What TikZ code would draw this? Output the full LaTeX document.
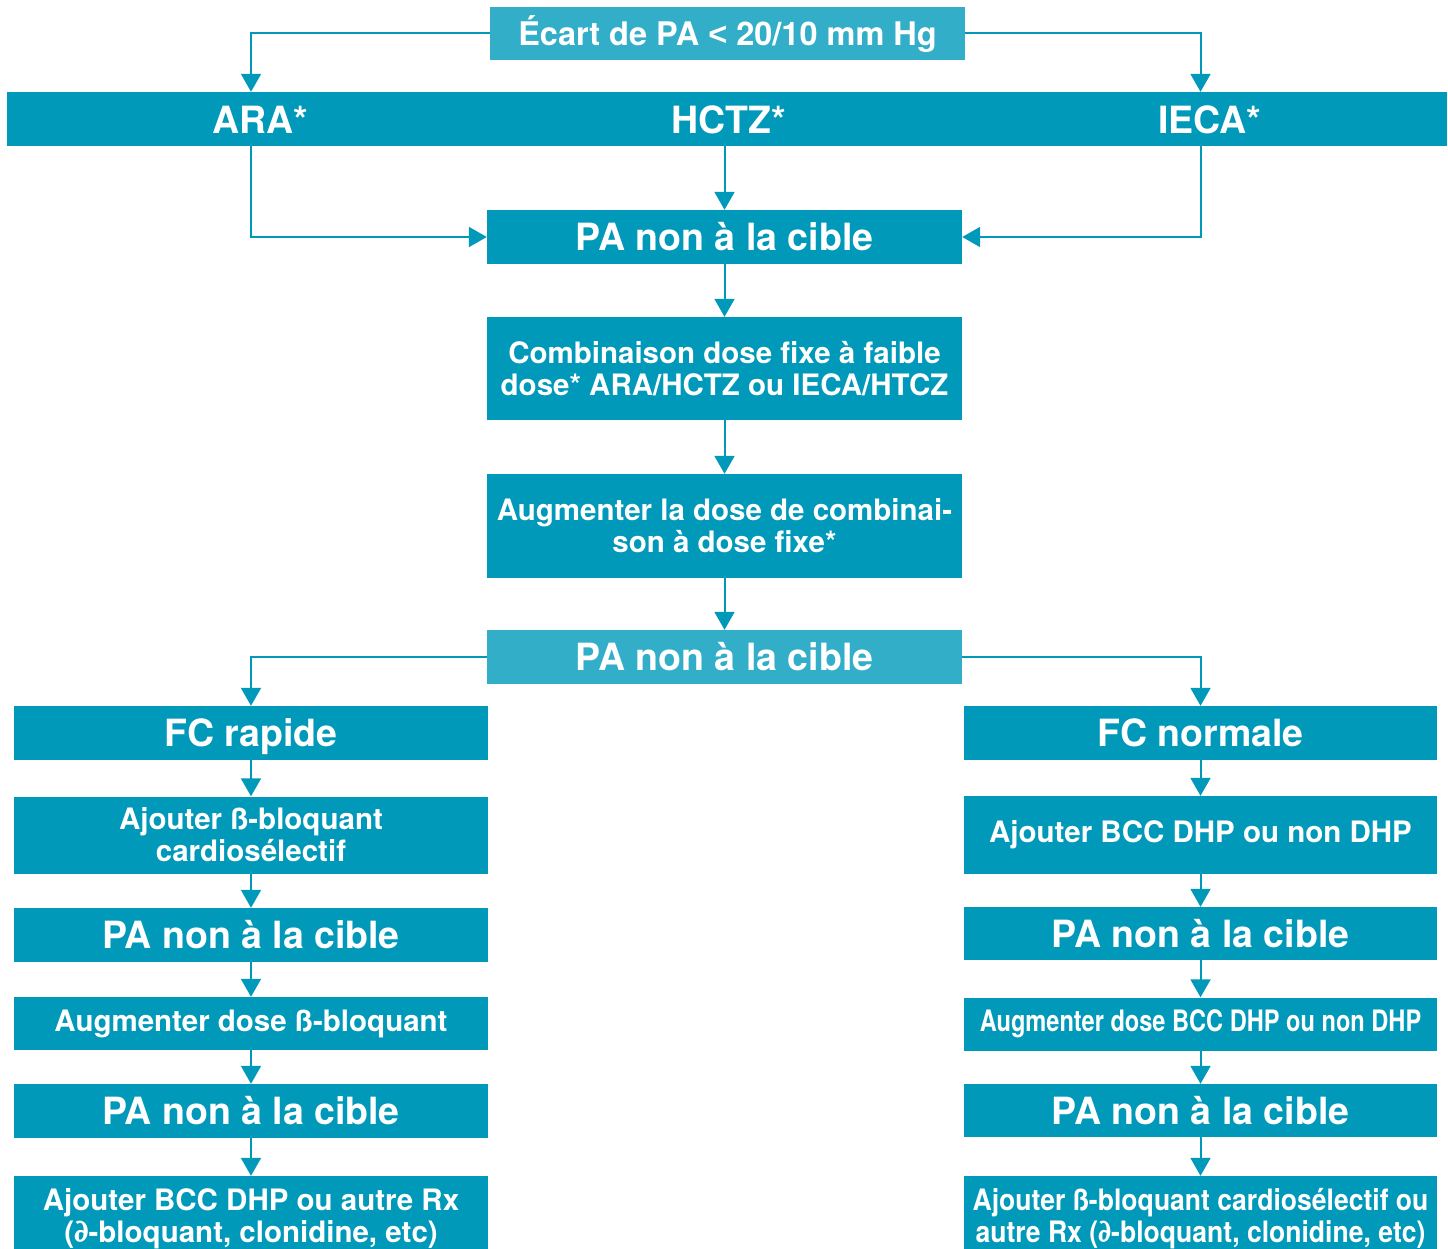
\documentclass[tikz,border=0pt]{standalone}
\usepackage{fontspec}
\setmainfont{TeX Gyre Heros}
\newfontfamily\lessfont{Liberation Sans}
\usepackage{graphicx}
\usetikzlibrary{arrows.meta}
\definecolor{tealdark}{RGB}{0,153,186}
\definecolor{teallight}{RGB}{51,174,200}

\begin{document}
\begin{tikzpicture}[x=1pt,y=-1pt,
  box/.style={fill=tealdark,text=white,minimum width=475pt,inner sep=0pt,align=center},
  lightbox/.style={box,fill=teallight},
  big/.style={font=\fontsize{37.5}{42}\selectfont\bfseries,text height=27pt,text depth=0pt},
  med/.style={font=\fontsize{29.5}{32}\selectfont\bfseries},
  top/.style={font=\fontsize{32.5}{36}\selectfont\bfseries,text height=24pt,text depth=0pt},
  arr/.style={draw=tealdark,line width=2pt,-{Triangle[width=20pt,length=18pt]}}]
\useasboundingbox (0,0) rectangle (1448,1249);

% start and the three drugs
\node[lightbox,top,minimum height=53pt] (start) at (727.5,33.5) {Écart de PA {\lessfont <} 20/10 mm Hg};
\node[box,minimum width=1440pt,minimum height=54pt] (bar) at (727,119) {};
\node[big,text=white] (ara) at (260,120) {ARA*};
\node[big,text=white] (hctz) at (729,120) {HCTZ*};
\node[big,text=white] (ieca) at (1210,120) {IECA*};

% middle column
\node[box,big,minimum height=54pt] (pa1) at (724.5,237) {PA non à la cible};
\node[box,med,minimum height=103pt] (comb) at (724.5,368.5) {Combinaison dose fixe à faible\\dose* ARA/HCTZ ou IECA/HTCZ};
\node[box,med,minimum height=104pt] (augm) at (724.5,526) {Augmenter la dose de combinai-\\son à dose fixe*};
\node[lightbox,big,minimum height=54pt] (pa2) at (724.5,657) {PA non à la cible};

% left column
\node[box,big,minimum width=474pt,minimum height=54pt] (fcr) at (251,733) {FC rapide};
\node[box,med,minimum width=474pt,minimum height=77pt] (ajb) at (251,835) {Ajouter ß-bloquant\\cardiosélectif};
\node[box,big,minimum width=474pt,minimum height=54pt] (pal1) at (251,935) {PA non à la cible};
\node[box,med,minimum width=474pt,minimum height=53pt] (augb) at (251,1023.5) {Augmenter dose ß-bloquant};
\node[box,big,minimum width=474pt,minimum height=54pt] (pal2) at (251,1111) {PA non à la cible};
\node[box,med,minimum width=474pt,minimum height=86pt] (ajbcc) at (251,1219) {Ajouter BCC DHP ou autre Rx\\(∂-bloquant, clonidine, etc)};

% right column
\node[box,big,minimum width=473pt,minimum height=54pt] (fcn) at (1200.5,733) {FC normale};
\node[box,med,minimum width=473pt,minimum height=78pt] (ajdhp) at (1200.5,835) {Ajouter BCC DHP ou non DHP};
\node[box,big,minimum width=473pt,minimum height=53pt] (par1) at (1200.5,933.5) {PA non à la cible};
\node[box,med,minimum width=473pt,minimum height=53pt] (augdhp) at (1200.5,1024) {\scalebox{0.8}[1]{Augmenter dose BCC DHP ou non DHP}};
\node[box,big,minimum width=473pt,minimum height=53pt] (par2) at (1200.5,1110.5) {PA non à la cible};
\node[box,med,minimum width=473pt,minimum height=86pt] (ajbb) at (1200.5,1219) {\scalebox{0.9}[1]{Ajouter ß-bloquant cardiosélectif ou}\\\scalebox{0.9}[1]{autre Rx (∂-bloquant, clonidine, etc)}};

% connectors
\draw[arr] (start.west) -| (bar.north -| fcr);
\draw[arr] (start.east) -| (bar.north -| fcn);
\draw[arr] (bar.south -| fcr) |- (pa1.west);
\draw[arr] (bar.south -| pa1) -- (pa1);
\draw[arr] (bar.south -| fcn) |- (pa1.east);
\draw[arr] (pa2.west) -| (fcr);
\draw[arr] (pa2.east) -| (fcn);
\foreach \a/\b in {pa1/comb,comb/augm,augm/pa2,
  fcr/ajb,ajb/pal1,pal1/augb,augb/pal2,pal2/ajbcc,
  fcn/ajdhp,ajdhp/par1,par1/augdhp,augdhp/par2,par2/ajbb}
  \draw[arr] (\a) -- (\b);
\end{tikzpicture}
\end{document}
